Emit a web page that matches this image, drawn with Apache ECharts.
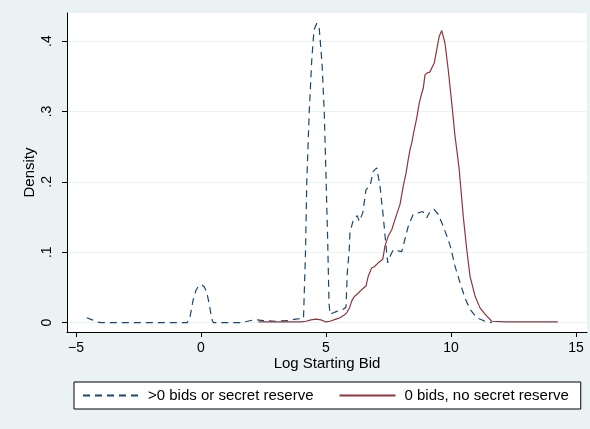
<!DOCTYPE html>
<html>
<head>
<meta charset="utf-8">
<script src="https://cdn.jsdelivr.net/npm/echarts@6/dist/echarts.min.js"></script>
<style>
html,body{margin:0;padding:0;background:#eaf2f3;}
#c{width:590px;height:429px;}
</style>
</head>
<body>
<div id="c"></div>
<script>
const xTicks = [-5, 0, 5, 10, 15];
const yTicks = [0, 0.1, 0.2, 0.3, 0.4];
const seriesNames = ['>0 bids or secret reserve', '0 bids, no secret reserve'];

const blueX = [-4.57, -4.35, -4.17, -4.0, -0.55, -0.45, -0.31, -0.2, -0.1, 0.03, 0.13, 0.23, 0.32, 0.39, 0.45, 0.5,
  1.6, 2.0, 2.2, 2.5, 3.0, 3.5, 3.8, 4.1, 4.13, 4.18, 4.23, 4.33, 4.43, 4.52, 4.63, 4.73, 4.84, 4.93, 5.0, 5.07, 5.12, 5.16,
  5.3, 5.43, 5.69, 5.8, 5.85, 5.93, 5.96, 6.09, 6.16, 6.25, 6.33, 6.47, 6.6, 6.76, 6.89, 7.03, 7.16, 7.29, 7.4, 7.47,
  7.56, 7.67, 7.76, 7.89, 8.03, 8.09, 8.29, 8.49, 8.69, 8.87, 9.03, 9.16, 9.32, 9.49, 9.69, 9.76, 9.89, 10.0, 10.16,
  10.36, 10.56, 10.76, 11.03, 11.36, 11.63];
const blueY = [0.007, 0.004, 0.001, 0.0, 0.0, 0.006, 0.033, 0.046, 0.052, 0.054, 0.051, 0.043, 0.028, 0.014, 0.003, 0.0,
  0.0, 0.003, 0.004, 0.003, 0.002, 0.003, 0.005, 0.006, 0.008, 0.1, 0.199, 0.30, 0.373, 0.416, 0.4255, 0.418, 0.369, 0.30, 0.208, 0.113, 0.028, 0.012,
  0.014, 0.016, 0.019, 0.022, 0.07, 0.104, 0.128, 0.146, 0.149, 0.152, 0.144, 0.156, 0.189, 0.194, 0.215, 0.22, 0.194, 0.151, 0.109, 0.085,
  0.094, 0.102, 0.104, 0.102, 0.101, 0.109, 0.137, 0.154, 0.156, 0.158, 0.149, 0.158, 0.161, 0.154, 0.137, 0.13, 0.118, 0.105, 0.080,
  0.057, 0.035, 0.019, 0.007, 0.002, 0.0];

const redX = [2.3, 3.0, 3.5, 4.0, 4.2, 4.4, 4.6, 4.8, 5.0, 5.16, 5.4, 5.56, 5.7, 5.83, 5.95, 6.03, 6.13, 6.23, 6.43, 6.6,
  6.69, 6.83, 6.92, 7.0, 7.09, 7.27, 7.36, 7.49, 7.63, 7.69, 7.8, 7.96, 8.09, 8.2, 8.29, 8.36, 8.43, 8.49, 8.63, 8.73,
  8.83, 8.89, 8.96, 9.05, 9.15, 9.23, 9.33, 9.43, 9.53, 9.63, 9.69, 9.76, 9.89, 10.03, 10.16, 10.23, 10.33, 10.49,
  10.63, 10.76, 10.96, 11.16, 11.36, 11.63, 12.2, 13.0, 14.27];
const redY = [0.001, 0.001, 0.001, 0.001, 0.002, 0.004, 0.005, 0.004, 0.001, 0.002, 0.005, 0.007, 0.01, 0.014, 0.022, 0.031, 0.037, 0.040, 0.047, 0.052,
  0.066, 0.078, 0.079, 0.077, 0.085, 0.090, 0.109, 0.123, 0.132, 0.133, 0.151, 0.168, 0.194, 0.212, 0.232, 0.246, 0.255, 0.267, 0.291, 0.312,
  0.326, 0.333, 0.352, 0.355, 0.356, 0.357, 0.369, 0.388, 0.407, 0.415, 0.413, 0.397, 0.359, 0.312, 0.265, 0.246, 0.217, 0.151,
  0.104, 0.066, 0.038, 0.021, 0.012, 0.002, 0.001, 0.001, 0.001];

const font = 'Liberation Sans, Arial, Helvetica, sans-serif';
const chart = echarts.init(document.getElementById('c'), null, {renderer: 'canvas'});
chart.setOption({
  animation: false,
  backgroundColor: '#eaf2f3',
  textStyle: {fontFamily: font},
  grid: {left: 67, top: 13, right: 3, bottom: 97, show: true, backgroundColor: '#ffffff', borderWidth: 0, outerBoundsMode: 'none', containLabel: false},
  legend: {
    left: 74, top: 382, orient: 'horizontal',
    data: seriesNames,
    padding: [6, 12, 6, 8],
    backgroundColor: '#ffffff', borderColor: '#000000', borderWidth: 1, borderRadius: 0,
    itemWidth: 56, itemHeight: 14, itemGap: 25,
    itemStyle: {opacity: 0, borderWidth: 0},
    textStyle: {fontFamily: font, fontSize: 15, color: '#000000', padding: [0, 0, 0, 4]}
  },
  xAxis: {
    type: 'value', min: -5.36, max: 15.44,
    name: 'Log Starting Bid', nameLocation: 'middle', nameGap: 24, nameMoveOverlap: false,
    nameTextStyle: {fontFamily: font, fontSize: 15, color: '#000000'},
    axisLine: {show: true, onZero: false, lineStyle: {color: '#000000', width: 1}},
    axisTick: {show: true, customValues: xTicks, length: 5, lineStyle: {color: '#000000'}},
    axisLabel: {show: true, customValues: xTicks, margin: 9, fontSize: 14, color: '#000000', fontFamily: font,
      formatter: v => String(v).replace('-', '\u2212')},
    splitLine: {show: false}
  },
  yAxis: {
    type: 'value', min: -0.0133, max: 0.44,
    name: 'Density', nameLocation: 'middle', nameGap: 30, nameMoveOverlap: false,
    nameTextStyle: {fontFamily: font, fontSize: 15, color: '#000000'},
    axisLine: {show: true, onZero: false, lineStyle: {color: '#000000', width: 1}},
    axisTick: {show: true, customValues: yTicks, length: 5, lineStyle: {color: '#000000'}},
    axisLabel: {show: true, customValues: yTicks, margin: 13, rotate: 90, fontSize: 14, color: '#000000', fontFamily: font,
      formatter: v => v === 0 ? '0' : String(Math.round(v * 10) / 10).replace('0.', '.')},
    splitLine: {show: true, lineStyle: {color: '#eaf2f3', width: 1}}
  },
  series: [
    {name: seriesNames[0], type: 'line', symbol: 'none', showSymbol: false, smooth: false,
      data: blueX.map((x, i) => [x, blueY[i]]),
      itemStyle: {color: '#1a476f'},
      lineStyle: {color: '#1a476f', width: 1.2, type: [7, 5]}},
    {name: seriesNames[1], type: 'line', symbol: 'none', showSymbol: false, smooth: false,
      data: redX.map((x, i) => [x, redY[i]]),
      itemStyle: {color: '#90353b'},
      lineStyle: {color: '#90353b', width: 1.2, type: 'solid'}}
  ]
});
</script>
</body>
</html>
